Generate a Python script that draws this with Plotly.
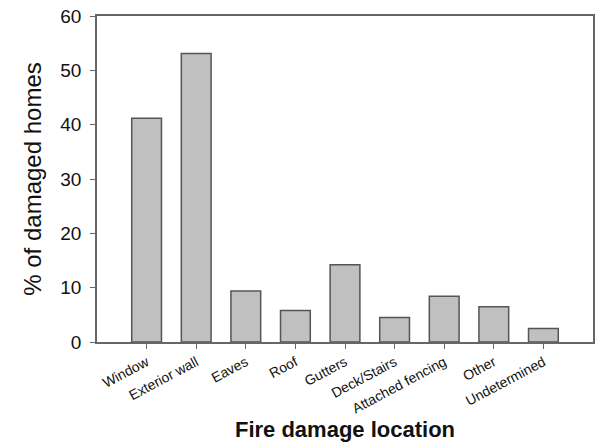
import plotly.graph_objects as go

categories = ["Window", "Exterior wall", "Eaves", "Roof", "Gutters", "Deck/Stairs",
              "Attached fencing", "Other", "Undetermined"]
values = [41.2, 53.1, 9.4, 5.8, 14.2, 4.5, 8.4, 6.5, 2.5]
y_ticks = [0, 10, 20, 30, 40, 50, 60]

fig = go.Figure(go.Bar(
    x=categories, y=values, width=0.6,
    marker=dict(color="#c0c0c0", line=dict(color="#555555", width=1.5)),
))

font = "Liberation Sans, Arial, sans-serif"
fig.update_layout(
    width=596, height=448,
    margin=dict(l=97, r=1, t=16, b=106),
    plot_bgcolor="white", paper_bgcolor="white",
    showlegend=False,
    font=dict(family=font, color="#111111"),
)
fig.update_xaxes(
    range=[-1, 9], tickangle=-28, tickfont=dict(size=14),
    showline=True, linecolor="#666666", linewidth=1.5, mirror=True,
    ticks="outside", ticklen=5, tickcolor="#666666",
    showgrid=False,
    title=dict(text="<b>Fire damage location</b>", font=dict(size=22), standoff=6),
)
fig.update_yaxes(
    range=[0, 60], tickvals=y_ticks, tickfont=dict(size=19),
    ticklabelstandoff=5,
    showline=True, linecolor="#666666", linewidth=1.5, mirror=True,
    ticks="outside", ticklen=5, tickcolor="#666666",
    showgrid=False, zeroline=False,
    title=dict(text="% of damaged homes", font=dict(size=24), standoff=12),
)
fig.write_html("out.html", config={"displayModeBar": False},
               post_script="document.body.style.margin='0';")
